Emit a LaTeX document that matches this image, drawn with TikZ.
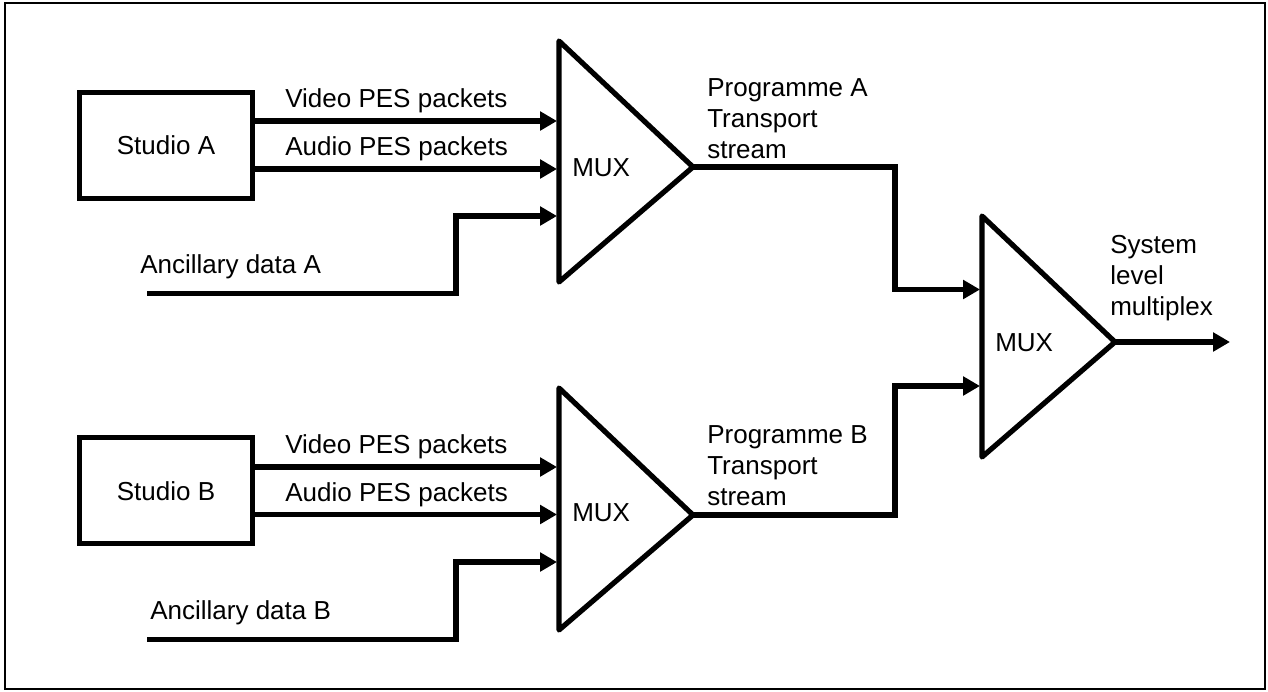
\documentclass[tikz,border=0pt]{standalone}
\usepackage{fontspec}
\setmainfont{Liberation Sans}
\usetikzlibrary{arrows.meta}

\begin{document}
\begin{tikzpicture}[x=0.025cm,y=-0.025cm,>={Triangle[length=12pt,width=13pt]},
  every node/.style={font=\fontsize{18.5}{21.8}\selectfont,inner sep=0pt},
  wire/.style={line width=3.7pt},
  studio/.style={draw,line width=3.7pt,minimum width=4.32cm,minimum height=2.65cm},
  mux/.style={draw,line width=3.7pt,line join=round},
  lbl/.style={anchor=base west,align=left}]
\useasboundingbox (0,0) rectangle (1268,691);
\draw[line width=1.4pt] (5,3) rectangle (1265,689);

\path
(166,145.5) node[studio] (sA) {Studio A}
(166,490.7) node[studio] (sB) {Studio B}
(285,107.3) node[lbl] (vidA) {Video PES packets}
(285,155)   node[lbl] (audA) {Audio PES packets}
(140,273)   node[lbl] (ancA) {Ancillary data A}
(285,453.3) node[lbl] (vidB) {Video PES packets}
(285,501)   node[lbl] (audB) {Audio PES packets}
(150,619)   node[lbl] (ancB) {Ancillary data B}
(572,168)   node[anchor=west] (muxA) {MUX}
(572,513)   node[anchor=west] (muxB) {MUX}
(995,343)   node[anchor=west] (muxC) {MUX}
(707,158.3) node[lbl] (progA) {Programme A\\Transport\\stream}
(707,505)   node[lbl] (progB) {Programme B\\Transport\\stream}
(1110,315)  node[lbl] (sys) {System\\level\\multiplex};

% multiplexers
\draw[mux] (559,41) -- (693,167) coordinate (oA) -- (559,282) -- cycle;
\draw[mux] (559,388) -- (693,515) coordinate (oB) -- (559,630) -- cycle;
\draw[mux] (982,216) -- (1115,342) coordinate (oC) -- (982,457) -- cycle;

\coordinate (iA1) at (557,121);
\coordinate (iA2) at (557,169);
\coordinate (iA3) at (557,216);
\coordinate (iB1) at (557,467);
\coordinate (iB2) at (557,514.5);
\coordinate (iB3) at (557,562);
\coordinate (iC1) at (980,289.5);
\coordinate (iC2) at (980,386);
\coordinate (cA) at (147,293.5);
\coordinate (cB) at (147,639.5);
\coordinate (jA) at (456,216);
\coordinate (jB) at (456,562);
\coordinate (kA) at (895,289.5);
\coordinate (kB) at (895,386);
\coordinate (out) at (1230,342);

\draw[wire,->] (sA.east |- iA1) -- (iA1);
\draw[wire,->] (sA.east |- iA2) -- (iA2);
\draw[wire,->] (cA) -| (jA) -- (iA3);
\draw[wire,->] (sB.east |- iB1) -- (iB1);
\draw[wire,->] (sB.east |- iB2) -- (iB2);
\draw[wire,->] (cB) -| (jB) -- (iB3);

\draw[wire,->] (oA) -| (kA) -- (iC1);
\draw[wire,->] (oB) -| (kB) -- (iC2);
\draw[wire,->] (oC) -- (out);
\end{tikzpicture}
\end{document}
